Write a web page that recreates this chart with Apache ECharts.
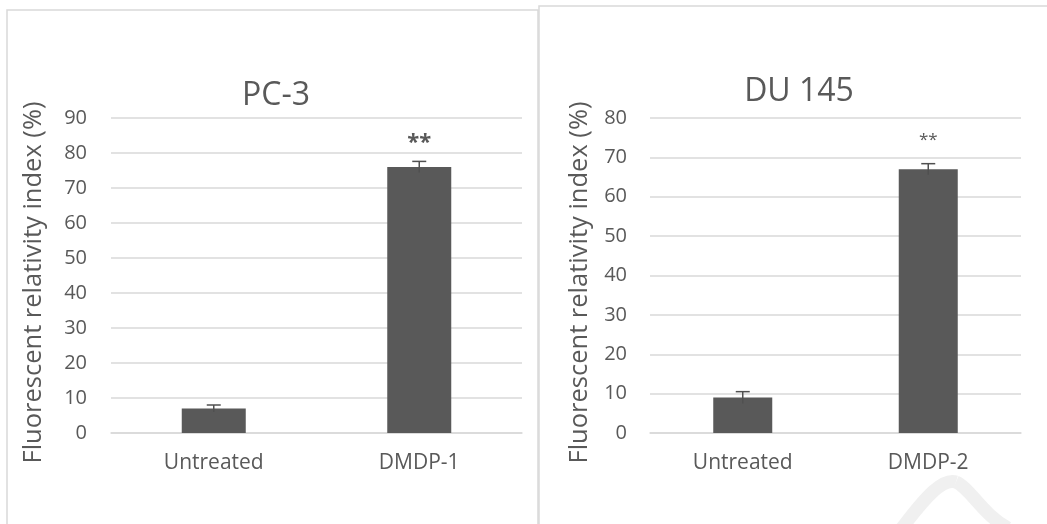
<!DOCTYPE html>
<html>
<head>
<meta charset="utf-8">
<script src="https://cdn.jsdelivr.net/npm/echarts@6/dist/echarts.min.js"></script>
<style>
  html, body { margin: 0; padding: 0; background: #ffffff; }
  #chart { width: 1047px; height: 524px; }
</style>
</head>
<body>
<div id="chart"></div>
<script>
// Fluorescent relativity index per cell line
const pc3Categories = ['Untreated', 'DMDP-1'];
const pc3Values = [7, 76];
const pc3Errors = [1, 1.6];
const pc3Marks = ['', '**'];

const du145Categories = ['Untreated', 'DMDP-2'];
const du145Values = [9, 67];
const du145Errors = [1.5, 1.4];
const du145Marks = ['', '**'];

const pc3Ticks = { min: 0, max: 90, interval: 10 };
const du145Ticks = { min: 0, max: 80, interval: 10 };

const FONT = '"Open Sans", "Noto Sans", sans-serif';
const TEXT = '#595959';
const GRID = '#d9d9d9';
const BAR = '#595959';

function errorRender(values, errors, marks, markFont) {
  return function (params, api) {
    const i = params.dataIndex;
    const x = api.value(0);
    const top = api.coord([x, values[i] + errors[i]]);
    const low = api.coord([x, values[i] - errors[i]]);
    const cap = 7;
    const children = [
      { type: 'line', shape: { x1: top[0], y1: top[1], x2: low[0], y2: low[1] },
        style: { stroke: '#505050', lineWidth: 1.5 } },
      { type: 'line', shape: { x1: top[0] - cap, y1: top[1], x2: top[0] + cap, y2: top[1] },
        style: { stroke: '#505050', lineWidth: 1.5 } }
    ];
    if (marks[i]) {
      children.push({
        type: 'text',
        style: {
          text: marks[i], x: top[0], y: top[1] - markFont.gap,
          align: 'center', verticalAlign: 'middle',
          font: markFont.font, fill: TEXT
        }
      });
    }
    return { type: 'group', children: children };
  };
}

function yAxisFor(gridIndex, ticks, nameGap, labelMargin) {
  return {
    type: 'value', gridIndex: gridIndex,
    min: ticks.min, max: ticks.max, interval: ticks.interval,
    name: 'Fluorescent relativity index (%)',
    nameLocation: 'middle', nameGap: nameGap,
    nameTextStyle: { fontFamily: FONT, fontSize: 25.5, color: TEXT, padding: [0, 14, 0, 0] },
    axisLine: { show: false }, axisTick: { show: false },
    axisLabel: { fontFamily: FONT, fontSize: 20, color: TEXT, margin: labelMargin },
    splitLine: { lineStyle: { color: GRID, width: 1.5 } }
  };
}

function xAxisFor(gridIndex, cats) {
  return {
    type: 'category', gridIndex: gridIndex, data: cats,
    axisLine: { lineStyle: { color: GRID, width: 1.5 } },
    axisTick: { show: false },
    axisLabel: { fontFamily: FONT, fontSize: 21, color: TEXT, margin: 20 }
  };
}

const chart = echarts.init(document.getElementById('chart'), null, { renderer: 'canvas' });

chart.setOption({
  backgroundColor: '#ffffff',
  animation: false,
  graphic: [
    { type: 'rect', shape: { x: 7, y: 10, width: 531, height: 530 },
      style: { fill: 'none', stroke: GRID, lineWidth: 1.5 }, z: -10 },
    { type: 'rect', shape: { x: 539, y: 6, width: 520, height: 530 },
      style: { fill: 'none', stroke: GRID, lineWidth: 1.5 }, z: -10 },
    { type: 'bezierCurve', z: -5,
      shape: { x1: 902, y1: 528, cpx1: 927, cpy1: 495, cpx2: 943, cpy2: 478, x2: 956, y2: 482 },
      style: { fill: 'none', stroke: '#f0f0f0', lineWidth: 13 } },
    { type: 'bezierCurve', z: -5,
      shape: { x1: 956, y1: 482, cpx1: 970, cpy1: 488, cpx2: 983, cpy2: 515, x2: 1008, y2: 528 },
      style: { fill: 'none', stroke: '#f0f0f0', lineWidth: 13 } }
  ],
  title: [
    { text: 'PC-3', left: 271, top: 75, textAlign: 'center',
      textStyle: { fontFamily: FONT, fontSize: 32, fontWeight: 'normal', color: TEXT } },
    { text: 'DU 145', left: 794, top: 71, textAlign: 'center',
      textStyle: { fontFamily: FONT, fontSize: 32, fontWeight: 'normal', color: TEXT } }
  ],
  grid: [
    { left: 111, right: 525, top: 118, bottom: 91 },
    { left: 650, right: 26, top: 118, bottom: 91 }
  ],
  xAxis: [xAxisFor(0, pc3Categories), xAxisFor(1, du145Categories)],
  yAxis: [yAxisFor(0, pc3Ticks, 64, 24), yAxisFor(1, du145Ticks, 57, 23)],
  series: [
    { type: 'bar', xAxisIndex: 0, yAxisIndex: 0, data: pc3Values,
      barWidth: 64, itemStyle: { color: BAR } },
    { type: 'custom', xAxisIndex: 0, yAxisIndex: 0, z: 5,
      data: pc3Values.map((v, i) => [i, v]),
      renderItem: errorRender(pc3Values, pc3Errors, pc3Marks,
        { font: 'bold 22px ' + FONT, gap: 19 }) },
    { type: 'bar', xAxisIndex: 1, yAxisIndex: 1, data: du145Values,
      barWidth: 59, itemStyle: { color: BAR } },
    { type: 'custom', xAxisIndex: 1, yAxisIndex: 1, z: 5,
      data: du145Values.map((v, i) => [i, v]),
      renderItem: errorRender(du145Values, du145Errors, du145Marks,
        { font: '17px ' + FONT, gap: 24 }) }
  ]
});
</script>
</body>
</html>
